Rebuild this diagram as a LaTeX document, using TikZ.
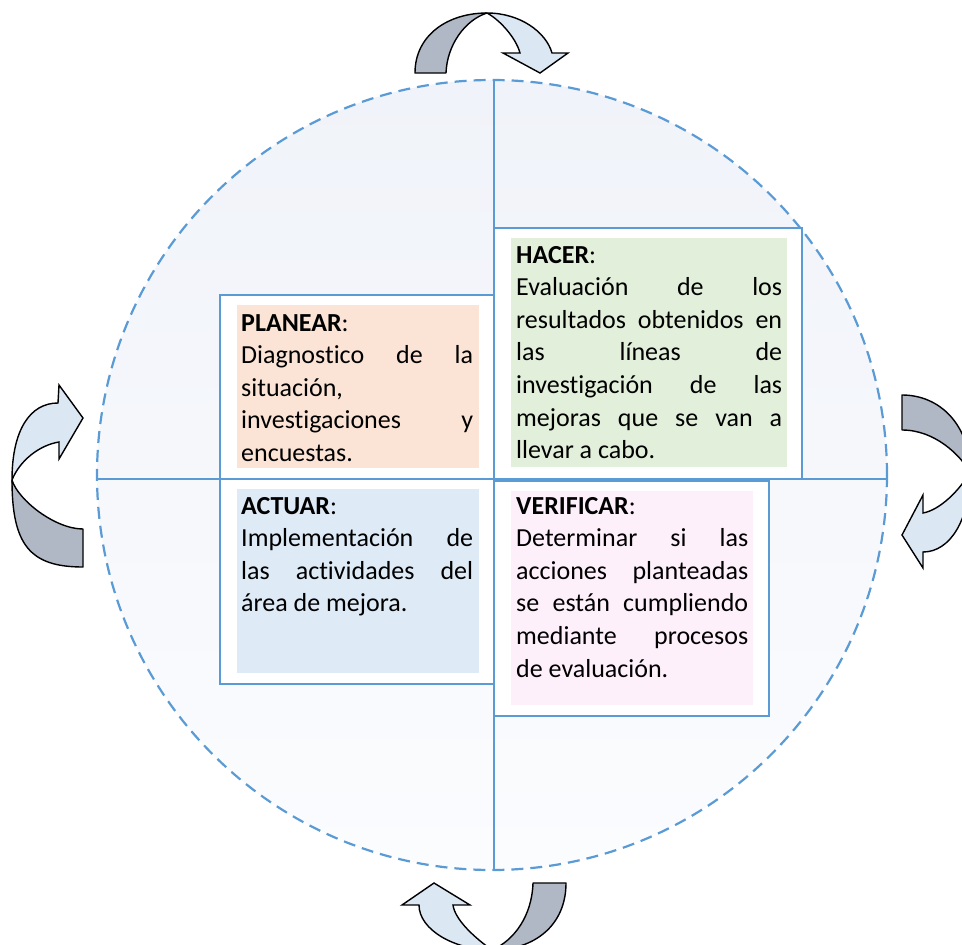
\documentclass[tikz,border=0pt]{standalone}
\usepackage{fontspec}
\setmainfont{Carlito}[Ligatures=NoCommon]
\usepackage{xcolor}
\definecolor{cycleblue}{HTML}{5B9BD5}
\definecolor{circletop}{HTML}{F0F3F9}
\definecolor{circlebot}{HTML}{FBFCFE}
\definecolor{planfill}{HTML}{FBE4D6}
\definecolor{hacerfill}{HTML}{E2EFDA}
\definecolor{actfill}{HTML}{DEEAF6}
\definecolor{verifill}{HTML}{FEF0FB}
\definecolor{tailgray}{HTML}{B0B8C5}
\definecolor{headblue}{HTML}{DCE7F4}
\tolerance=10000
\hyphenpenalty=10000
\tikzset{
  cellframe/.style={draw=cycleblue,line width=1.8pt,fill=white},
  textcell/.style={anchor=base west,inner sep=0pt,text width=#1,align=justify,
    font=\fontsize{26}{32.6}\selectfont},
  tailpart/.style={fill=tailgray,draw=black,line width=1.4pt,line join=round},
  headpart/.style={fill=headblue,draw=black,line width=1.4pt,line join=miter},
}
\begin{document}
\begin{tikzpicture}[x=1pt,y=-1pt]
            \clip (0,0) rectangle (962,945);
            \shade[top color=circletop,bottom color=circlebot] (492,475) circle (395pt);
            \draw[cycleblue,line width=1.5pt] (494,80) -- (494,870);
            \draw[cycleblue,line width=1.5pt] (97,479) -- (887,479);
            \draw[cellframe] (220,295) rectangle (494,479);
            \draw[cellframe] (494,228) rectangle (802,479);
            \draw[cellframe] (220,479) rectangle (494,684);
            \draw[cellframe] (494,481) rectangle (769,716);
            \fill[planfill] (237,305) rectangle (479,468);
            \fill[hacerfill] (511,238) rectangle (787,467);
            \fill[actfill] (237,489) rectangle (479,673);
            \fill[verifill] (511,491) rectangle (753,705);
            \node[textcell=232pt] (planear) at (241,331) {\textbf{PLANEAR}:\linebreak Diagnostico de la\linebreak situación,\linebreak investigaciones y\linebreak encuestas.};
            \node[textcell=266pt] (hacer) at (516,263) {\textbf{HACER}:\linebreak Evaluación de los\linebreak resultados obtenidos en\linebreak las líneas de\linebreak investigación de las\linebreak mejoras que se van a\linebreak llevar a cabo.};
            \node[textcell=232pt] (actuar) at (241,514) {\textbf{ACTUAR}:\linebreak Implementación de\linebreak las actividades del\linebreak área de mejora.};
            \node[textcell=232pt] (verificar) at (516,514) {\textbf{VERIFICAR}:\linebreak Determinar si las\linebreak acciones planteadas\linebreak se están cumpliendo\linebreak mediante procesos\linebreak de evaluación.};
            \draw[cycleblue,line width=2.2pt,dash pattern=on 12pt off 7pt] (492,475) circle (395pt);
            % top arrow
            \draw[tailpart] (415,73) .. controls (415,35) and (448,13) .. (487,13) .. controls (465,20) and (447,45) .. (446,73) -- cycle;
            \draw[headpart] (487,13) .. controls (520,13) and (546,32) .. (552,53) -- (568,53) -- (540,73) -- (503,53) -- (520,53) .. controls (516,38) and (500,20) .. (487,13) -- cycle;
            % left arrow
            \draw[tailpart] (83,567) .. controls (30,567) and (12,545) .. (12,480) .. controls (18,500) and (55,529) .. (83,529) -- cycle;
            \draw[headpart] (12,480) .. controls (12,430) and (30,403) .. (58,403) -- (59,385) -- (83,418) -- (59,459) -- (59,442) .. controls (40,445) and (20,460) .. (12,480) -- cycle;
            % right arrow
            \draw[tailpart] (902,395) .. controls (940,395) and (970,425) .. (970,472) .. controls (960,455) and (935,430) .. (902,430) -- cycle;
            \draw[headpart] (970,472) .. controls (970,520) and (950,552) .. (923,552) -- (923,568) -- (902,535) -- (923,495) -- (923,513) .. controls (940,510) and (960,490) .. (970,472) -- cycle;
            % bottom arrow
            \draw[tailpart] (566,883) .. controls (566,925) and (535,950) .. (492,950) .. controls (515,940) and (532,915) .. (533,883) -- cycle;
            \draw[headpart] (492,950) .. controls (455,950) and (419,930) .. (419,905) -- (402,905) -- (434,883) -- (470,905) -- (453,905) .. controls (455,920) and (475,938) .. (492,950) -- cycle;
        \end{tikzpicture}
\end{document}
